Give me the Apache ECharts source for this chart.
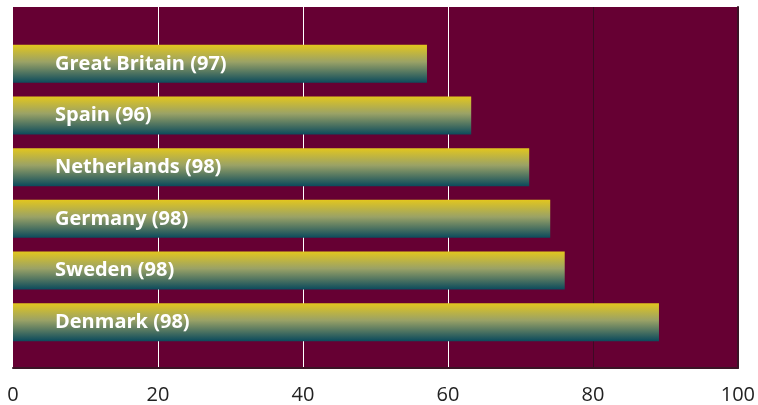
<!DOCTYPE html>
<html>
<head>
<meta charset="utf-8">
<script src="https://cdn.jsdelivr.net/npm/echarts@6/dist/echarts.min.js"></script>
<style>html,body{margin:0;padding:0;background:#fff;}#c{width:758px;height:405px;}</style>
</head>
<body>
<div id="c"></div>
<script>
const countries = ['Great Britain', 'Spain', 'Netherlands', 'Germany', 'Sweden', 'Denmark'];
const years = ['97', '96', '98', '98', '98', '98'];
const values = [57.1, 63.2, 71.2, 74.1, 76.1, 89.1];
const xTicks = [0, 20, 40, 60, 80, 100];

const chart = echarts.init(document.getElementById('c'));
const barGrad = new echarts.graphic.LinearGradient(0, 0, 0, 1, [
  {offset: 0, color: '#e2c61e'},
  {offset: 0.45, color: '#9aa266'},
  {offset: 1, color: '#0b4a5c'}
]);
chart.setOption({
  animation: false,
  grid: [
    {left: 13, right: 20, top: 7, bottom: 37, show: true, backgroundColor: '#660033', borderWidth: 0},
    {left: 13, right: 20, top: 38, bottom: 57}
  ],
  xAxis: [
    {gridIndex: 0, type: 'value', min: xTicks[0], max: xTicks[xTicks.length - 1], interval: 20,
      axisLine: {show: true, onZero: false, lineStyle: {color: '#3a1426', width: 2}},
      axisTick: {show: false},
      axisLabel: {fontFamily: 'Open Sans', fontSize: 20, color: '#222', margin: 17},
      splitLine: {show: true, lineStyle: {color: ['rgba(0,0,0,0)', '#ffffff', '#ffffff', '#ffffff', '#3d0a24', '#3a1426'], width: 1}}
    },
    {gridIndex: 1, type: 'value', min: 0, max: 100, show: false}
  ],
  yAxis: [
    {gridIndex: 0, type: 'value', position: 'right', axisLine: {show: true, onZero: false, lineStyle: {color: '#3a1426', width: 2}},
      axisLabel: {show: false}, axisTick: {show: false}, splitLine: {show: false}},
    {gridIndex: 1, type: 'category', data: countries, inverse: true, show: false}
  ],
  series: [{
    type: 'bar', xAxisIndex: 1, yAxisIndex: 1, data: values, barWidth: 38,
    itemStyle: {color: barGrad},
    label: {show: true, position: [42, '50%'], verticalAlign: 'middle', align: 'left',
      fontFamily: 'Open Sans', fontWeight: 'bold', fontSize: 20, color: '#fff',
      formatter: p => p.name + ' (' + years[p.dataIndex] + ')'}
  }]
});
</script>
</body>
</html>
